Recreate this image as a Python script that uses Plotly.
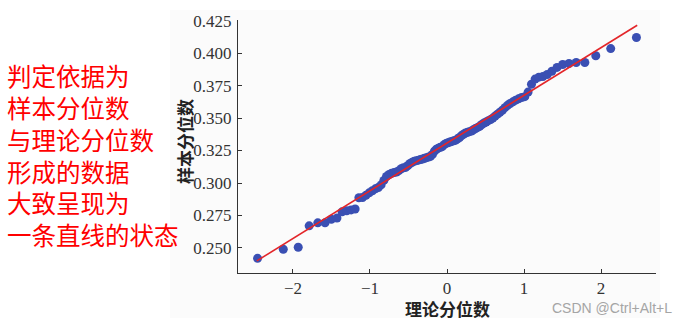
import plotly.graph_objects as go

# Theoretical quantiles (x) and sample quantiles (y)
theoretical_q = [
    -2.460, -2.126, -1.932, -1.790, -1.678, -1.584, -1.502, -1.429, -1.362, -1.302,
    -1.245, -1.193, -1.144, -1.097, -1.053, -1.010, -0.969, -0.930, -0.892, -0.856,
    -0.820, -0.786, -0.752, -0.719, -0.687, -0.656, -0.625, -0.595, -0.566, -0.537,
    -0.508, -0.480, -0.452, -0.425, -0.398, -0.371, -0.344, -0.318, -0.292, -0.266,
    -0.240, -0.214, -0.189, -0.163, -0.138, -0.113, -0.087, -0.062, -0.037, -0.012,
    0.012, 0.037, 0.062, 0.087, 0.113, 0.138, 0.163, 0.189, 0.214, 0.240,
    0.266, 0.292, 0.318, 0.344, 0.371, 0.398, 0.425, 0.452, 0.480, 0.508,
    0.537, 0.566, 0.595, 0.625, 0.656, 0.687, 0.719, 0.752, 0.786, 0.820,
    0.856, 0.892, 0.930, 0.969, 1.010, 1.053, 1.097, 1.144, 1.193, 1.245,
    1.302, 1.362, 1.429, 1.502, 1.584, 1.678, 1.790, 1.932, 2.126, 2.460,
]
sample_q = [
    0.242, 0.249, 0.2505, 0.267, 0.2693, 0.2693, 0.272, 0.273, 0.2778, 0.2786,
    0.2793, 0.280, 0.2886, 0.2888, 0.2905, 0.2924, 0.294, 0.2955, 0.2965, 0.2985,
    0.302, 0.305, 0.3065, 0.3075, 0.308, 0.3085, 0.3095, 0.311, 0.3117, 0.312,
    0.3135, 0.315, 0.316, 0.3168, 0.3172, 0.3176, 0.318, 0.3185, 0.319, 0.3195,
    0.320, 0.3205, 0.322, 0.3245, 0.326, 0.3268, 0.3275, 0.328, 0.3295, 0.3305,
    0.331, 0.3315, 0.332, 0.3325, 0.333, 0.334, 0.335, 0.3365, 0.3375, 0.3385,
    0.339, 0.3395, 0.340, 0.341, 0.342, 0.3428, 0.3437, 0.345, 0.3462, 0.347,
    0.348, 0.3488, 0.350, 0.3515, 0.353, 0.3545, 0.356, 0.358, 0.3598, 0.3612,
    0.3625, 0.3638, 0.3648, 0.3658, 0.3665, 0.370, 0.376, 0.380, 0.3815, 0.382,
    0.3835, 0.386, 0.389, 0.3912, 0.392, 0.3928, 0.3928, 0.398, 0.4035, 0.412,
]
fit_x = [-2.47, 2.47]
fit_y = [0.2400, 0.4215]

x_ticks = [-2, -1, 0, 1, 2]
y_ticks = [0.250, 0.275, 0.300, 0.325, 0.350, 0.375, 0.400, 0.425]
y_tick_labels = ["0.250", "0.275", "0.300", "0.325", "0.350", "0.375", "0.400", "0.425"]

x_title = "理论分位数"
y_title = "样本分位数"
note_lines = ["判定依据为", "样本分位数", "与理论分位数", "形成的数据", "大致呈现为", "一条直线的状态"]
watermark = "CSDN @Ctrl+Alt+L"

W, H = 694, 324
ML, MR, MT, MB = 238, 38, 20, 51
PW, PH = W - ML - MR, H - MT - MB


def px(x):
    return (x - ML) / PW


def py(y):
    return (H - MB - y) / PH


fig = go.Figure()
fig.add_trace(go.Scatter(
    x=theoretical_q, y=sample_q, mode="markers",
    marker=dict(size=9, color="#3a4fb3", line=dict(width=0)),
    showlegend=False, hoverinfo="skip",
))
fig.add_trace(go.Scatter(
    x=fit_x, y=fit_y, mode="lines",
    line=dict(color="#e3262a", width=1.6),
    showlegend=False, hoverinfo="skip",
))

axis_common = dict(
    showgrid=False, zeroline=False, showline=True, linecolor="#333333", linewidth=1.4,
    ticks="inside", ticklen=4, tickwidth=1.2, tickcolor="#333333",
    tickfont=dict(family="Liberation Serif, serif", size=17, color="#333333"),
    mirror=False,
)
fig.update_xaxes(range=[-2.714, 2.714], tickvals=x_ticks, ticklabelstandoff=-1, **axis_common)
fig.update_yaxes(range=[0.2307, 0.4255], tickvals=y_ticks, ticktext=y_tick_labels,
                 ticklabelstandoff=2, **axis_common)

annotations = [
    dict(text=f"<b>{x_title}</b>", x=px(447), y=py(308), xref="paper", yref="paper",
         showarrow=False, xanchor="center", yanchor="middle",
         font=dict(family="Noto Sans CJK SC", size=17, color="#222222")),
    dict(text=f"<b>{y_title}</b>", x=px(184), y=py(142), xref="paper", yref="paper",
         showarrow=False, xanchor="center", yanchor="middle", textangle=-90,
         font=dict(family="Noto Sans CJK SC", size=17, color="#222222")),
    dict(text=watermark, x=px(550), y=py(308), xref="paper", yref="paper",
         showarrow=False, xanchor="left", yanchor="middle",
         font=dict(family="Liberation Sans, Arial, sans-serif", size=14, color="#a5a5a5")),
    dict(text="<br>".join(note_lines), x=px(5), y=py(155), xref="paper", yref="paper",
         showarrow=False, xanchor="left", yanchor="middle", align="left",
         font=dict(family="Noto Sans CJK SC", size=24.5, color="#ff0000")),
]

fig.update_layout(
    width=W, height=H,
    margin=dict(l=ML, r=MR, t=MT, b=MB),
    paper_bgcolor="white", plot_bgcolor="rgba(0,0,0,0)",
    annotations=annotations,
    shapes=[dict(type="rect", xref="paper", yref="paper", layer="below",
                 x0=px(170), x1=px(660), y0=py(318), y1=py(10),
                 fillcolor="#fbfbfb", line=dict(width=0))],
)

fig.write_html("out.html")
